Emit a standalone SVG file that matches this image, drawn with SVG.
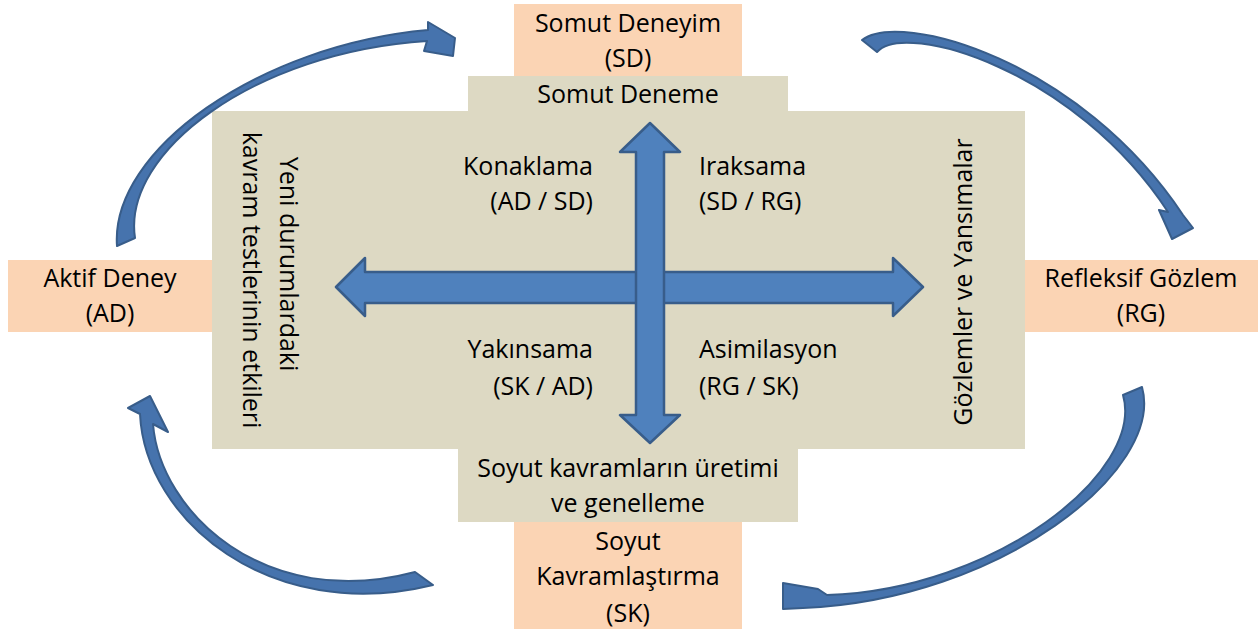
<svg xmlns="http://www.w3.org/2000/svg" width="1260" height="629" viewBox="0 0 1260 629">
<style>
.peach{fill:#FBD4B4}
.beige{fill:#DDD9C3}
text{font-family:"Open Sans","Noto Sans","Liberation Sans",sans-serif;font-size:25px;fill:#000}
.c{text-anchor:middle}
.r{text-anchor:end}
.arrow{fill:#4F81BD;stroke:#385D8A;stroke-width:2.5;stroke-linejoin:round}
.curve{fill:#4673AD;stroke:#385D8A;stroke-width:2;stroke-linejoin:round}
</style>
<rect width="1260" height="629" fill="#fff"/>
<g id="background">
<rect class="beige" x="212" y="111" width="813" height="338"/>
</g>
<g id="node-sd">
<rect class="peach" x="514" y="4" width="228" height="72"/>
<text class="c" x="628" y="32">Somut Deneyim</text>
<text class="c" x="628" y="67">(SD)</text>
</g>
<g id="node-somut-deneme">
<rect class="beige" x="468" y="76" width="320" height="36"/>
<text class="c" x="628" y="103">Somut Deneme</text>
</g>
<g id="node-ad">
<rect class="peach" x="8" y="260" width="204" height="72"/>
<text class="c" x="110" y="287">Aktif Deney</text>
<text class="c" x="110" y="322">(AD)</text>
</g>
<g id="node-rg">
<rect class="peach" x="1025" y="260" width="233" height="72"/>
<text class="c" x="1141" y="287">Refleksif Gözlem</text>
<text class="c" x="1141" y="322">(RG)</text>
</g>
<g id="node-soyut-uretim">
<rect class="beige" x="458" y="448" width="340" height="74"/>
<text class="c" x="628" y="477">Soyut kavramların üretimi</text>
<text class="c" x="628" y="512">ve genelleme</text>
</g>
<g id="node-sk">
<rect class="peach" x="514" y="522" width="228" height="107"/>
<text class="c" x="628" y="550">Soyut</text>
<text class="c" x="628" y="585">Kavramlaştırma</text>
<text class="c" x="628" y="622">(SK)</text>
</g>
<g id="node-yeni">
<text class="c" transform="translate(280,264) rotate(90)">Yeni durumlardaki</text>
<text class="c" transform="translate(243,280) rotate(90)">kavram testlerinin etkileri</text>
</g>
<g id="node-gozlemler">
<text class="c" transform="translate(972,282) rotate(-90)">Gözlemler ve Yansımalar</text>
</g>
<g id="node-konaklama">
<text class="r" x="593" y="175">Konaklama</text>
<text class="r" x="593" y="210">(AD / SD)</text>
</g>
<g id="node-iraksama">
<text x="699" y="175">Iraksama</text>
<text x="699" y="210">(SD / RG)</text>
</g>
<g id="node-yakinsama">
<text class="r" x="593" y="358">Yakınsama</text>
<text class="r" x="593" y="395">(SK / AD)</text>
</g>
<g id="node-asimilasyon">
<text x="699" y="358">Asimilasyon</text>
<text x="699" y="395">(RG / SK)</text>
</g>
<g id="connectors">
<path class="arrow" d="M336,287 L365,258 L365,272 L893,272 L893,258 L923,287 L893,316 L893,303 L365,303 L365,316 Z"/>
<path class="arrow" d="M650,123 L680,152 L664,152 L664,415 L680,415 L650,443 L620,415 L636,415 L636,152 L620,152 Z"/>
<path class="curve" d="M117,246 C110,150 260,45 428,30 L428,22 L455,38 L453,56 L424,51 L427,41 C255,52 122,152 135,238 Z"/>
<path class="curve" d="M862,40 C900,10 1080,60 1183,215 L1193,228 L1172,239 L1159,210 L1168,212 C1075,70 905,20 877,52 Z"/>
<path class="curve" d="M433,585 C270,625 145,520 140,414 L128,408 L150,396 L168,432 L153,424 C160,512 265,612 415,572 Z"/>
<path class="curve" d="M1142,387 C1165,470 1000,600 803,608 L783,609 L783,583 L818,589 L827,595 C995,590 1145,472 1123,395 Z"/>
</g>
</svg>
